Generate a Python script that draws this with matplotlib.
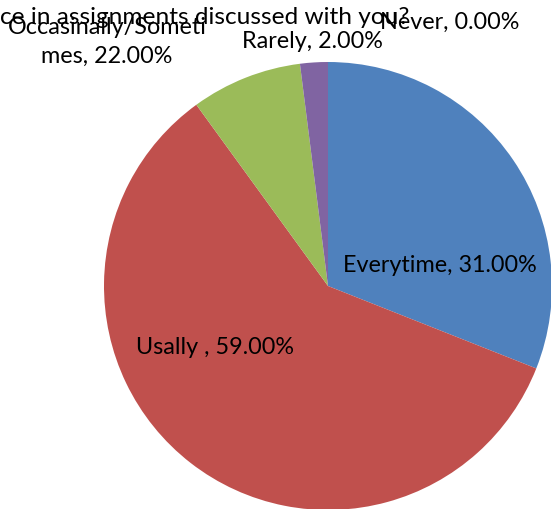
import matplotlib
matplotlib.use("Agg")
import matplotlib.pyplot as plt

categories = ["Everytime", "Usally ", "Occasinally/Someti\nmes", "Rarely", "Never"]
values = [31, 59, 8, 2, 0]
label_pcts = ["31.00%", "59.00%", "22.00%", "2.00%", "0.00%"]
colors = ["#4F81BD", "#C0504D", "#9BBB59", "#8064A2", "#4BACC6"]
title = "How often is your performance in assignments discussed with you?"

W, H, DPI = 551, 509, 100
fig = plt.figure(figsize=(W / DPI, H / DPI), dpi=DPI)
ax = fig.add_axes([0, 0, 1, 1])
ax.axis("off")

cx, cy, R = 328, 286, 224
ax.pie(values, colors=colors, startangle=90, counterclock=False,
       radius=1, center=(0, 0), wedgeprops=dict(linewidth=0))
ax.set_xlim(-cx / R, (W - cx) / R)
ax.set_ylim(-(H - cy) / R, cy / R)
ax.set_aspect("auto")

font = ["Lato", "DejaVu Sans"]

def px(x, y):
    return x / W, 1 - y / H

label_pos = [(440, 265), (215, 348), (107, 42), (312, 42), (450, 22)]
for cat, pct, (x, y) in zip(categories, label_pcts, label_pos):
    fx, fy = px(x, y)
    fig.text(fx, fy, f"{cat}, {pct}", ha="center", va="center",
             fontsize=16.8, family=font, color="#000000", linespacing=1.5)

tx, ty = px(409, 17)
fig.text(tx, ty, title, ha="right", va="center", fontsize=17.6,
         family=font, color="#000000")

fig.savefig("out.png", dpi=DPI)
